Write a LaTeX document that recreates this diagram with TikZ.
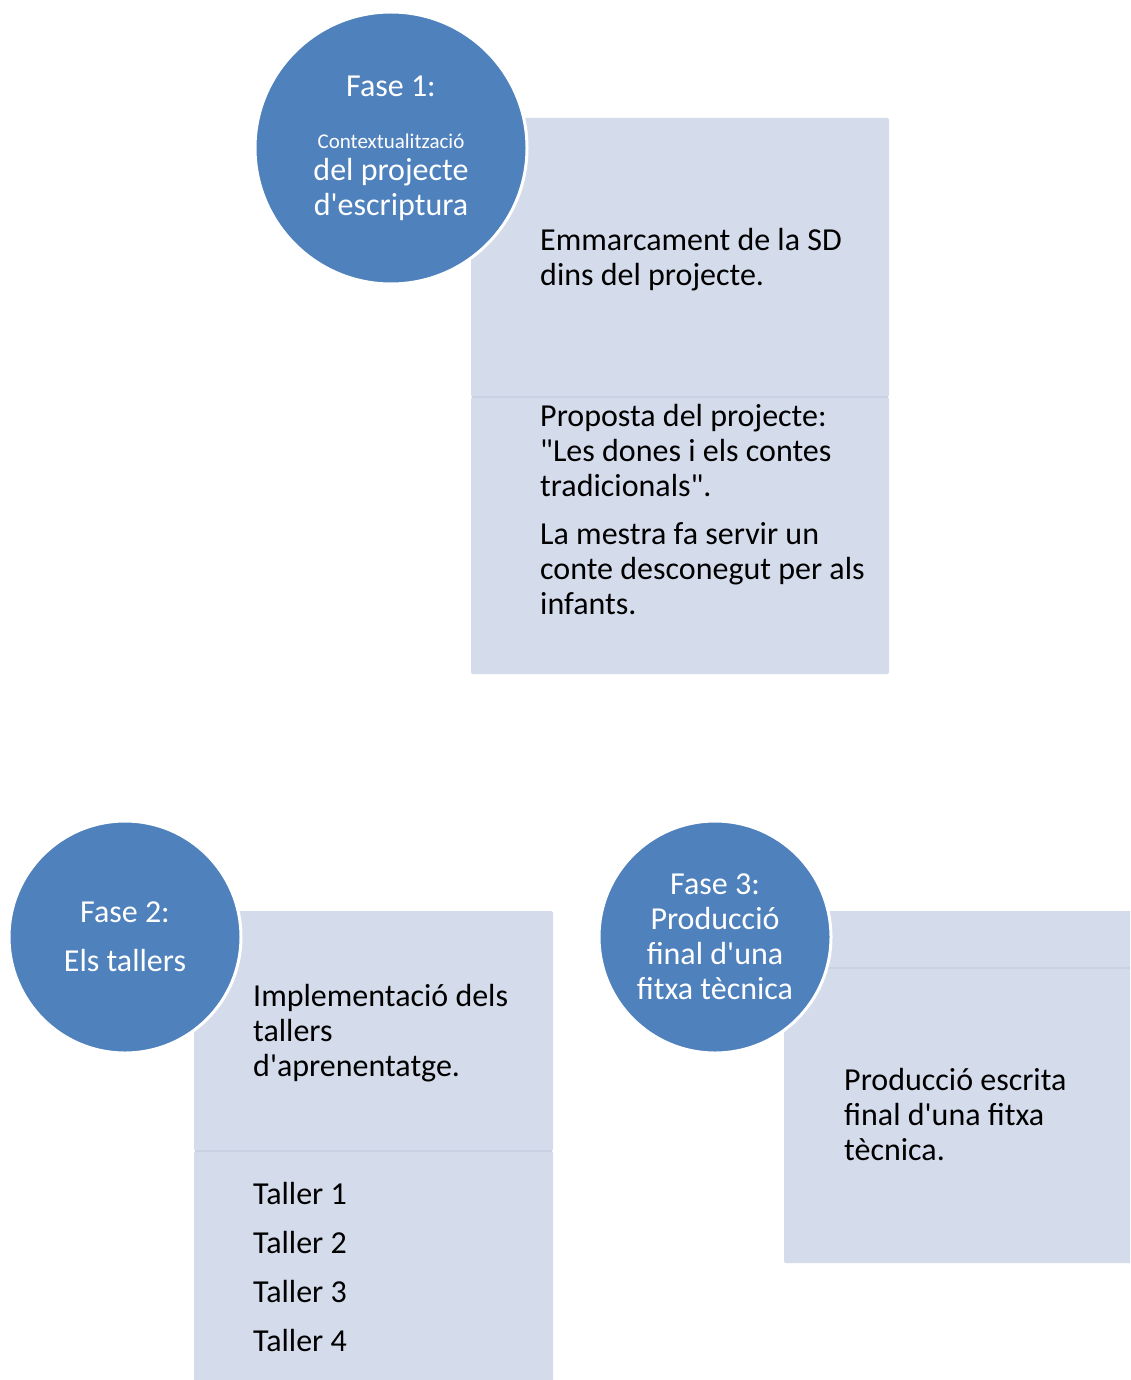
\documentclass[tikz,border=0pt]{standalone}
\usepackage{fontspec}
\newfontfamily\carlito{Carlito}
\definecolor{faseblue}{HTML}{4F81BD}
\definecolor{panelfill}{HTML}{D4DBEA}
\definecolor{paneledge}{HTML}{CAD1E2}
\tikzset{
  fase/.style={circle, fill=faseblue, draw=white, line width=3pt, minimum size=#1,
    inner sep=0pt, text=white, align=center, font=\carlito\fontsize{32}{35}\selectfont},
  panel/.style={fill=panelfill, rounded corners=2pt},
  divider/.style={draw=paneledge, line width=2pt},
  txt/.style={anchor=west, align=left, inner sep=0pt, font=\carlito\fontsize{32}{35}\selectfont},
}
\begin{document}
\begin{tikzpicture}[x = 1pt, y = -1pt]
  \useasboundingbox (0,0) rectangle (1130,1380);
  \clip (0,0) rectangle (1130,1380);
  % panels
  \fill[panel] (471,118) rectangle (889,397);
  \fill[panel] (471,397) rectangle (889,674);
  \draw[divider] (472,397) -- (888,397);
  \fill[panel] (194,911) rectangle (553,1151);
  \fill[panel] (194,1151) rectangle (553,1400);
  \draw[divider] (195,1151) -- (552,1151);
  \fill[panel] (784,911) rectangle (1140,968);
  \fill[panel] (784,968) rectangle (1140,1263);
  \draw[divider] (785,968) -- (1130,968);
  % panel texts
  \node[txt] (t1a) at (540,259.5) {Emmarcament de la SD\\dins del projecte.};
  \node[txt] (t1b) at (540,510) {Proposta del projecte:\\"Les dones i els contes\\tradicionals".\\[13pt]La mestra fa servir un\\conte desconegut per als\\infants.};
  \node[txt] (t2a) at (253,1033) {Implementació dels\\tallers\\d'aprenentatge.};
  \node[txt] (t2b) at (253,1267) {Taller 1\\[14pt]Taller 2\\[14pt]Taller 3\\[14pt]Taller 4};
  \node[txt] (t3) at (844,1115) {Producció escrita\\final d'una fitxa\\tècnica.};
  % fases
  \node[fase=272pt] (fase1) at (391,148) {Fase 1:\\[17pt]{\fontsize{21}{24}\selectfont Contextualització}\\[-3pt]del projecte\\d'escriptura};
  \node[fase=232pt] (fase2) at (125,937) {Fase 2:\\[14pt]Els tallers};
  \node[fase=232pt] (fase3) at (715,937) {Fase 3:\\Producció\\final d'una\\fitxa tècnica};
\end{tikzpicture}
\end{document}
